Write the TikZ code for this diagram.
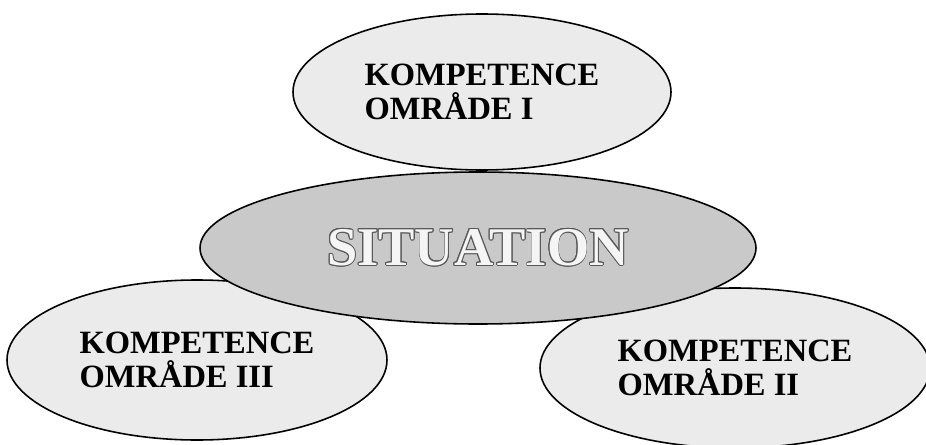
\documentclass[tikz,border=0pt]{standalone}
\usepackage{fontspec}
\setmainfont{Liberation Serif}
\usepackage{contour}
\usetikzlibrary{shapes.geometric}
\contourlength{0.5pt}
\contournumber{16}
\tikzset{
  area/.style={ellipse,draw=black,line width=0.9pt,fill=gray!16,inner sep=0pt,
    align=left,font=\bfseries\fontsize{18.5}{19.5}\selectfont},
  core/.style={ellipse,draw=black,line width=0.9pt,fill=gray!42,inner sep=0pt,
    font=\bfseries\fontsize{31}{31}\selectfont}
}
\begin{document}
\begin{tikzpicture}
\useasboundingbox (0,0) rectangle (18.52,8.88);
\fill[white] (0,0) rectangle (18.52,8.88);
%areas
\node[area,minimum width=7.6cm,minimum height=3.2cm] (omr3) at (3.94,1.68) {KOMPETENCE\\OMRÅDE III};
\node[area,minimum width=7.8cm,minimum height=3.2cm] (omr2) at (14.7,1.52) {KOMPETENCE\\OMRÅDE II};
\node[core,minimum width=11.12cm,minimum height=3.04cm] (sit) at (9.56,3.92) {\contour{gray!70!black}{\textcolor{gray!8}{SITUATION}}};
\node[area,minimum width=7.56cm,minimum height=3.12cm] (omr1) at (9.64,7.04) {KOMPETENCE\\OMRÅDE I};
\end{tikzpicture}
\end{document}
